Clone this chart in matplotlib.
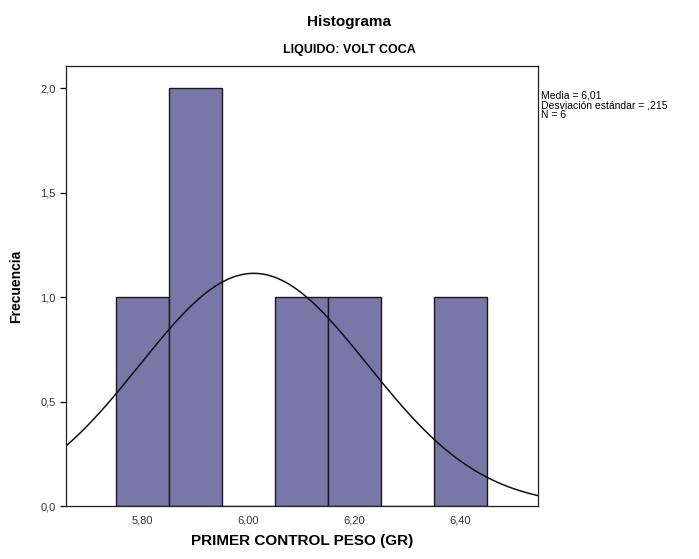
import numpy as np
import matplotlib.pyplot as plt

# Histograma con curva normal (estilo SPSS)
bin_edges = [5.75, 5.85, 5.95, 6.05, 6.15, 6.25, 6.35, 6.45]
counts = [1, 2, 0, 1, 1, 0, 1]
media = 6.01
desv = 0.215
n = 6

x_ticks = [5.80, 6.00, 6.20, 6.40]
x_ticklabels = ['5,80', '6,00', '6,20', '6,40']
y_ticks = [0.0, 0.5, 1.0, 1.5, 2.0]
y_ticklabels = ['0,0', '0,5', '1,0', '1,5', '2,0']

plt.rcParams['font.family'] = ['Liberation Sans', 'DejaVu Sans']

fig = plt.figure(figsize=(6.99, 5.59), dpi=100)
ax = fig.add_axes([0.0944, 0.0948, 0.6753, 0.787])

widths = np.diff(bin_edges)
ax.bar(bin_edges[:-1], counts, width=widths, align='edge',
       color='#7878A8', edgecolor='#1a1a1a', linewidth=1.0, zorder=2)

# curva normal escalada a frecuencias
xs = np.linspace(5.656, 6.546, 400)
bw = widths[0]
ys = n * bw / (desv * np.sqrt(2 * np.pi)) * np.exp(-0.5 * ((xs - media) / desv) ** 2)
ax.plot(xs, ys, color='#111111', linewidth=1.1, zorder=3)

ax.set_xlim(5.656, 6.546)
ax.set_ylim(0, 2.105)
ax.set_xticks(x_ticks)
ax.set_xticklabels(x_ticklabels, fontsize=8, color='#333333')
ax.set_yticks(y_ticks)
ax.set_yticklabels(y_ticklabels, fontsize=8, color='#333333')
ax.tick_params(axis='x', length=0, pad=7)
ax.tick_params(axis='y', length=4, direction='out', width=0.9)
for s in ax.spines.values():
    s.set_linewidth(0.9)
    s.set_color('#222222')

ax.set_xlabel('PRIMER CONTROL PESO (GR)', fontsize=11, fontweight='bold', labelpad=6)
ax.set_ylabel('Frecuencia', fontsize=10, fontweight='bold', labelpad=12)

fig.text(0.5, 0.961, 'Histograma', ha='center', va='center', fontsize=11, fontweight='bold')
fig.text(0.5, 0.91, 'LIQUIDO: VOLT COCA', ha='center', va='center', fontsize=9,
         fontweight='bold', family=['Liberation Sans Narrow', 'Liberation Sans', 'DejaVu Sans'])

fig.text(0.774, 0.838,
         'Media = 6,01\nDesviación estándar = ,215\nN = 6',
         ha='left', va='top', fontsize=7.5, linespacing=0.95,
         family=['Liberation Sans Narrow', 'Liberation Sans', 'DejaVu Sans'])

fig.savefig('out.png', dpi=100, facecolor='white')
